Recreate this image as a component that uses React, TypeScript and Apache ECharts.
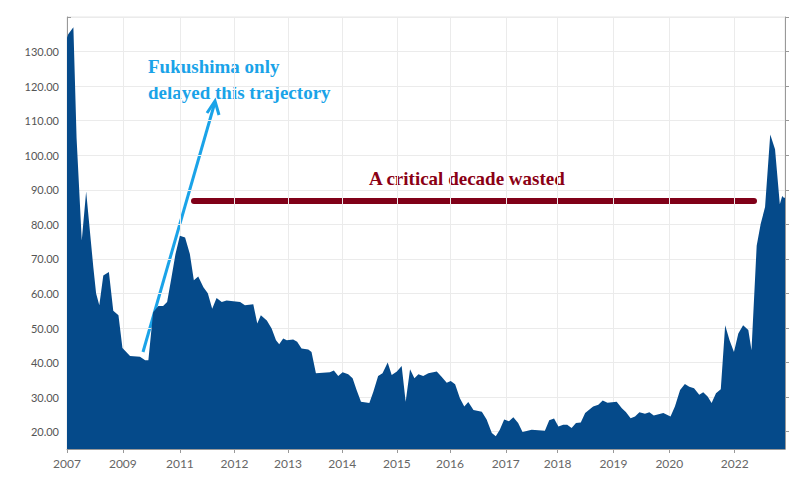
import { useEffect, useRef } from 'react'
import * as echarts from 'echarts'

// month index (fractional, 0..180) and price in USD/lb
const monthIdx = [0, 0.3, 1.6, 2.4, 3.7, 4.8, 6.6, 7.3, 8.1, 9.1, 10.5, 11.6, 12.9, 13.9, 15.8, 18.3, 19.6, 20.4, 21.6, 22.9, 24.1, 25.1, 26.2, 27.2, 28.3, 29.6, 30.8, 31.8, 32.9, 34.2, 35.3, 36.4, 37.5, 38.8, 40, 43.4, 44.6, 46.7, 47.7, 48.6, 50.1, 51.3, 52.4, 53.2, 54.2, 55.1, 56.7, 57.7, 58.8, 60.5, 61.3, 62.4, 65.9, 66.9, 68, 69.1, 70.5, 71.6, 72.6, 73.7, 75.8, 76.8, 78, 79.1, 80.4, 81.4, 82.7, 83.9, 84.9, 86, 87.1, 88.1, 89.3, 90.6, 92.7, 93.9, 95.2, 96.2, 97.3, 98.5, 99.6, 100.6, 101.9, 104, 105.2, 106.5, 107.5, 108.5, 109.6, 110.8, 111.9, 113.1, 114.2, 116.5, 119.8, 120.9, 122.1, 123.2, 124.4, 125.4, 126.5, 127.6, 128.8, 129.9, 131.9, 133.2, 134.3, 135.5, 137.8, 139.1, 140.1, 141.3, 142.4, 143.5, 144.9, 146, 147.1, 149.5, 151.3, 152.4, 153.7, 154.9, 156, 157.2, 158.5, 159.5, 160.6, 161.6, 162.7, 163.9, 165, 166.1, 167.2, 168.3, 169.5, 170.8, 171.6, 172.9, 173.9, 175, 176.3, 177.5, 178.7, 179.3, 179.7, 180]
const price = [134, 135, 137, 105, 75.3, 89.5, 67.6, 60, 56.6, 65.2, 66.2, 55, 53.7, 44.2, 41.9, 41.7, 40.7, 40.7, 54.6, 56.4, 56.4, 57.5, 64.7, 71.4, 76.7, 76.2, 71.4, 63.8, 64.9, 61.8, 60.1, 55.6, 58.7, 57.5, 58, 57.5, 56.6, 56.9, 51.3, 53.7, 52.2, 49.9, 46.5, 45.3, 47, 46.5, 46.7, 46, 44.1, 43.8, 43.1, 36.9, 37.2, 37.7, 36.1, 37.2, 36.6, 35.5, 32.1, 28.7, 28.3, 31.6, 36.1, 36.9, 40, 36.4, 37.4, 39, 28.7, 38.1, 35.5, 36.6, 36.1, 36.9, 37.4, 35.9, 34.2, 34.7, 33.7, 29.7, 27.3, 28.6, 26.3, 25.8, 23.5, 19.6, 18.7, 20.6, 23.5, 23, 24.2, 22.5, 19.9, 20.6, 20.3, 23.3, 23.8, 21.5, 22, 22, 21.1, 22.5, 22.7, 25.4, 27.3, 27.8, 29, 28.4, 28.7, 26.8, 25.7, 23.9, 24.4, 25.6, 25.2, 25.6, 24.7, 25.4, 24.4, 27.3, 32.1, 33.8, 33, 32.6, 30.7, 31.4, 30.2, 28.3, 31.1, 32.3, 50.8, 46.5, 43.1, 48.4, 50.8, 49.4, 43.6, 73.8, 80.1, 85, 106, 101.7, 85.8, 88.2, 87.7, 87.7]

const yearTicks = [0, 14, 28.3, 42, 55.4, 69, 82.7, 96, 110, 123, 137, 151, 167.4]
const yearLabels = ['2007', '2009', '2011', '2012', '2013', '2014', '2015', '2016', '2017', '2018', '2019', '2020', '2022']
const priceTicks = [20, 30, 40, 50, 60, 70, 80, 90, 100, 110, 120, 130, 140]

export default function App() {
  const chartRef = useRef<HTMLDivElement>(null)

  useEffect(() => {
    if (!chartRef.current) return
    const chart = echarts.init(chartRef.current, undefined, { renderer: 'svg' })

    const serif = '"Liberation Serif", "DejaVu Serif", serif'

    chart.setOption({
      animation: false,
      grid: { left: 67, right: 7, top: 17, bottom: 34, show: true, borderColor: '#e6e6e6', borderWidth: 1 },
      xAxis: {
        type: 'value',
        min: 0,
        max: 180,
        axisLine: { show: true, lineStyle: { color: '#999' } },
        axisTick: { show: true, customValues: yearTicks, length: 4, lineStyle: { color: '#999' } },
        axisLabel: {
          customValues: yearTicks,
          color: '#666',
          fontSize: 12,
          fontFamily: 'Lato, sans-serif',
          margin: 8,
          formatter: (v: number) => {
            const i = yearTicks.findIndex(t => Math.abs(t - v) < 0.01)
            return i >= 0 ? yearLabels[i] : ''
          },
        },
        splitLine: { show: true, lineStyle: { color: '#ebebeb' } },
      },
      yAxis: [
        {
          type: 'value',
          min: 15,
          max: 140,
          axisLine: { show: true, lineStyle: { color: '#999' } },
          axisTick: { show: true, customValues: priceTicks, length: 4, inside: true, lineStyle: { color: '#999' } },
          axisLabel: {
            customValues: priceTicks,
            color: '#555',
            fontSize: 11,
            fontFamily: 'Lato, sans-serif',
            formatter: (v: number) => (v >= 140 ? '' : v.toFixed(2)),
          },
          splitLine: { show: true, lineStyle: { color: '#ebebeb' } },
        },
        {
          type: 'value',
          position: 'right',
          min: 15,
          max: 140,
          axisLine: { show: true, lineStyle: { color: '#999' } },
          axisTick: { show: true, customValues: priceTicks, length: 4, lineStyle: { color: '#999' } },
          axisLabel: { show: false },
          splitLine: { show: false },
        },
      ],
      series: [
        {
          type: 'line',
          data: monthIdx.map((m, i) => [m, price[i]]),
          symbol: 'none',
          lineStyle: { width: 0 },
          areaStyle: { color: '#054a8a', opacity: 1, origin: 'start' },
        },
      ],
      graphic: [
        {
          type: 'text',
          left: 148,
          top: 53,
          style: {
            text: 'Fukushima only\ndelayed this trajectory',
            fill: '#1aa3e8',
            font: `bold 19px ${serif}`,
            lineHeight: 26,
          },
        },
        {
          type: 'line',
          shape: { x1: 143, y1: 352, x2: 215, y2: 102 },
          style: { stroke: '#1aa3e8', lineWidth: 3 },
        },
        {
          type: 'polyline',
          shape: { points: [[207, 113], [215, 101], [219, 115]] },
          style: { stroke: '#1aa3e8', lineWidth: 3, fill: 'none' },
        },
        {
          type: 'line',
          shape: { x1: 194, y1: 201, x2: 754, y2: 201 },
          style: { stroke: '#800018', lineWidth: 6, lineCap: 'round' },
        },
        {
          type: 'text',
          left: 369,
          top: 169,
          style: {
            text: 'A critical decade wasted',
            fill: '#8b0015',
            font: `bold 19px ${serif}`,
          },
        },
      ],
    })

    return () => {
      chart.dispose()
    }
  }, [])

  return (
    <div
      ref={chartRef}
      style={{ position: 'absolute', left: 0, top: 0, width: 792, height: 483, background: '#fff' }}
    />
  )
}
